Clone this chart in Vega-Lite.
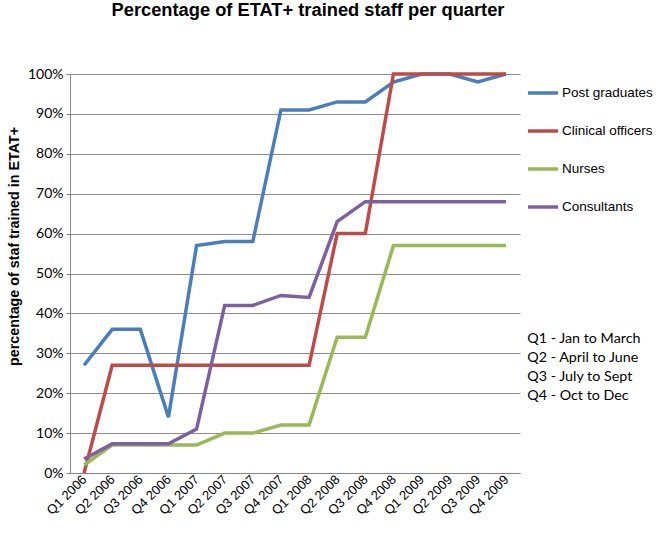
{
  "$schema": "https://vega.github.io/schema/vega-lite/v6.json",
  "width": 450,
  "height": 399,
  "autosize": "none",
  "padding": {"left": 70, "top": 74, "right": 136, "bottom": 60},
  "background": "white",
  "title": {
    "text": "Percentage of ETAT+ trained staff per quarter",
    "font": "Liberation Sans",
    "fontSize": 18.3,
    "fontWeight": "bold",
    "color": "#000000",
    "anchor": "middle",
    "dx": 13,
    "offset": 47
  },
  "config": {
    "view": {"stroke": null},
    "font": "Liberation Sans"
  },
  "datasets": {
    "series": [
      {"quarter": "Q1 2006", "group": "Post graduates", "value": 0.27},
      {"quarter": "Q2 2006", "group": "Post graduates", "value": 0.36},
      {"quarter": "Q3 2006", "group": "Post graduates", "value": 0.36},
      {"quarter": "Q4 2006", "group": "Post graduates", "value": 0.14},
      {"quarter": "Q1 2007", "group": "Post graduates", "value": 0.57},
      {"quarter": "Q2 2007", "group": "Post graduates", "value": 0.58},
      {"quarter": "Q3 2007", "group": "Post graduates", "value": 0.58},
      {"quarter": "Q4 2007", "group": "Post graduates", "value": 0.91},
      {"quarter": "Q1 2008", "group": "Post graduates", "value": 0.91},
      {"quarter": "Q2 2008", "group": "Post graduates", "value": 0.93},
      {"quarter": "Q3 2008", "group": "Post graduates", "value": 0.93},
      {"quarter": "Q4 2008", "group": "Post graduates", "value": 0.98},
      {"quarter": "Q1 2009", "group": "Post graduates", "value": 1.0},
      {"quarter": "Q2 2009", "group": "Post graduates", "value": 1.0},
      {"quarter": "Q3 2009", "group": "Post graduates", "value": 0.98},
      {"quarter": "Q4 2009", "group": "Post graduates", "value": 1.0},
      {"quarter": "Q1 2006", "group": "Clinical officers", "value": 0.0},
      {"quarter": "Q2 2006", "group": "Clinical officers", "value": 0.27},
      {"quarter": "Q3 2006", "group": "Clinical officers", "value": 0.27},
      {"quarter": "Q4 2006", "group": "Clinical officers", "value": 0.27},
      {"quarter": "Q1 2007", "group": "Clinical officers", "value": 0.27},
      {"quarter": "Q2 2007", "group": "Clinical officers", "value": 0.27},
      {"quarter": "Q3 2007", "group": "Clinical officers", "value": 0.27},
      {"quarter": "Q4 2007", "group": "Clinical officers", "value": 0.27},
      {"quarter": "Q1 2008", "group": "Clinical officers", "value": 0.27},
      {"quarter": "Q2 2008", "group": "Clinical officers", "value": 0.6},
      {"quarter": "Q3 2008", "group": "Clinical officers", "value": 0.6},
      {"quarter": "Q4 2008", "group": "Clinical officers", "value": 1.0},
      {"quarter": "Q1 2009", "group": "Clinical officers", "value": 1.0},
      {"quarter": "Q2 2009", "group": "Clinical officers", "value": 1.0},
      {"quarter": "Q3 2009", "group": "Clinical officers", "value": 1.0},
      {"quarter": "Q4 2009", "group": "Clinical officers", "value": 1.0},
      {"quarter": "Q1 2006", "group": "Nurses", "value": 0.02},
      {"quarter": "Q2 2006", "group": "Nurses", "value": 0.07},
      {"quarter": "Q3 2006", "group": "Nurses", "value": 0.07},
      {"quarter": "Q4 2006", "group": "Nurses", "value": 0.07},
      {"quarter": "Q1 2007", "group": "Nurses", "value": 0.07},
      {"quarter": "Q2 2007", "group": "Nurses", "value": 0.1},
      {"quarter": "Q3 2007", "group": "Nurses", "value": 0.1},
      {"quarter": "Q4 2007", "group": "Nurses", "value": 0.12},
      {"quarter": "Q1 2008", "group": "Nurses", "value": 0.12},
      {"quarter": "Q2 2008", "group": "Nurses", "value": 0.34},
      {"quarter": "Q3 2008", "group": "Nurses", "value": 0.34},
      {"quarter": "Q4 2008", "group": "Nurses", "value": 0.57},
      {"quarter": "Q1 2009", "group": "Nurses", "value": 0.57},
      {"quarter": "Q2 2009", "group": "Nurses", "value": 0.57},
      {"quarter": "Q3 2009", "group": "Nurses", "value": 0.57},
      {"quarter": "Q4 2009", "group": "Nurses", "value": 0.57},
      {"quarter": "Q1 2006", "group": "Consultants", "value": 0.035},
      {"quarter": "Q2 2006", "group": "Consultants", "value": 0.073},
      {"quarter": "Q3 2006", "group": "Consultants", "value": 0.073},
      {"quarter": "Q4 2006", "group": "Consultants", "value": 0.073},
      {"quarter": "Q1 2007", "group": "Consultants", "value": 0.11},
      {"quarter": "Q2 2007", "group": "Consultants", "value": 0.42},
      {"quarter": "Q3 2007", "group": "Consultants", "value": 0.42},
      {"quarter": "Q4 2007", "group": "Consultants", "value": 0.445},
      {"quarter": "Q1 2008", "group": "Consultants", "value": 0.44},
      {"quarter": "Q2 2008", "group": "Consultants", "value": 0.63},
      {"quarter": "Q3 2008", "group": "Consultants", "value": 0.68},
      {"quarter": "Q4 2008", "group": "Consultants", "value": 0.68},
      {"quarter": "Q1 2009", "group": "Consultants", "value": 0.68},
      {"quarter": "Q2 2009", "group": "Consultants", "value": 0.68},
      {"quarter": "Q3 2009", "group": "Consultants", "value": 0.68},
      {"quarter": "Q4 2009", "group": "Consultants", "value": 0.68}
    ],
    "notes": [
      {"quarter": "Q1 2006", "value": 0, "note": "Q1 - Jan to March"},
      {"quarter": "Q1 2006", "value": 0, "note": "Q2 -  April to June"},
      {"quarter": "Q1 2006", "value": 0, "note": "Q3 - July to Sept"},
      {"quarter": "Q1 2006", "value": 0, "note": "Q4 - Oct to Dec"}
    ]
  },
  "encoding": {
    "x": {
      "field": "quarter",
      "type": "ordinal",
      "sort": null,
      "scale": {"type": "point", "padding": 0.5},
      "axis": {
        "title": null,
        "labelAngle": -45,
        "labelAlign": "right",
        "labelBaseline": "middle",
        "labelFont": "Liberation Sans",
        "labelFontSize": 13,
        "labelColor": "#000000",
        "labelPadding": 4,
        "domainColor": "#868686",
        "ticks": false,
        "grid": false
      }
    },
    "y": {
      "field": "value",
      "type": "quantitative",
      "scale": {"domain": [0, 1], "nice": false, "clamp": false},
      "axis": {
        "title": "percentage of staf trained in ETAT+",
        "titleFont": "Liberation Sans",
        "titleFontSize": 14.3,
        "titleFontWeight": "bold",
        "titleColor": "#000000",
        "titleX": -56,
        "titleY": 172,
        "titleAngle": -90,
        "titleAlign": "center",
        "titleBaseline": "middle",
        "format": ".0%",
        "values": [0, 0.1, 0.2, 0.3, 0.4, 0.5, 0.6, 0.7, 0.8, 0.9, 1.0],
        "labelFont": "Lato",
        "labelFontSize": 14,
        "labelColor": "#000000",
        "labelPadding": 3,
        "tickSize": 4,
        "tickColor": "#868686",
        "domainColor": "#868686",
        "grid": true,
        "gridColor": "#8c8c8c",
        "gridWidth": 1
      }
    }
  },
  "layer": [
    {
      "data": {"name": "series"},
      "mark": {"type": "line", "strokeWidth": 3.5, "clip": false},
      "encoding": {
        "color": {
          "field": "group",
          "type": "nominal",
          "scale": {
            "domain": ["Post graduates", "Clinical officers", "Nurses", "Consultants"],
            "range": ["#4A7EBB", "#BE4B48", "#98B954", "#7D60A0"]
          },
          "legend": {
            "title": null,
            "orient": "none",
            "legendX": 456,
            "legendY": 2,
            "symbolType": "stroke",
            "symbolSize": 900,
            "symbolStrokeWidth": 3.5,
            "labelFont": "Liberation Sans",
            "labelFontSize": 13.5,
            "labelColor": "#000000",
            "labelOffset": 2,
            "rowPadding": 14,
            "labelLimit": 200
          }
        }
      }
    },
    {
      "data": {"name": "notes"},
      "mark": {"type": "point", "opacity": 0},
      "encoding": {
        "shape": {
          "field": "note",
          "type": "nominal",
          "scale": {
            "domain": ["Q1 - Jan to March", "Q2 -  April to June", "Q3 - July to Sept", "Q4 - Oct to Dec"]
          },
          "legend": {
            "title": null,
            "orient": "none",
            "legendX": 443,
            "legendY": 258,
            "symbolSize": 0,
            "symbolOpacity": 0,
            "symbolStrokeWidth": 0,
            "labelFont": "Lato",
            "labelFontSize": 14.3,
            "labelColor": "#000000",
            "labelOffset": 0,
            "rowPadding": 3.8,
            "labelLimit": 200
          }
        }
      }
    }
  ]
}
